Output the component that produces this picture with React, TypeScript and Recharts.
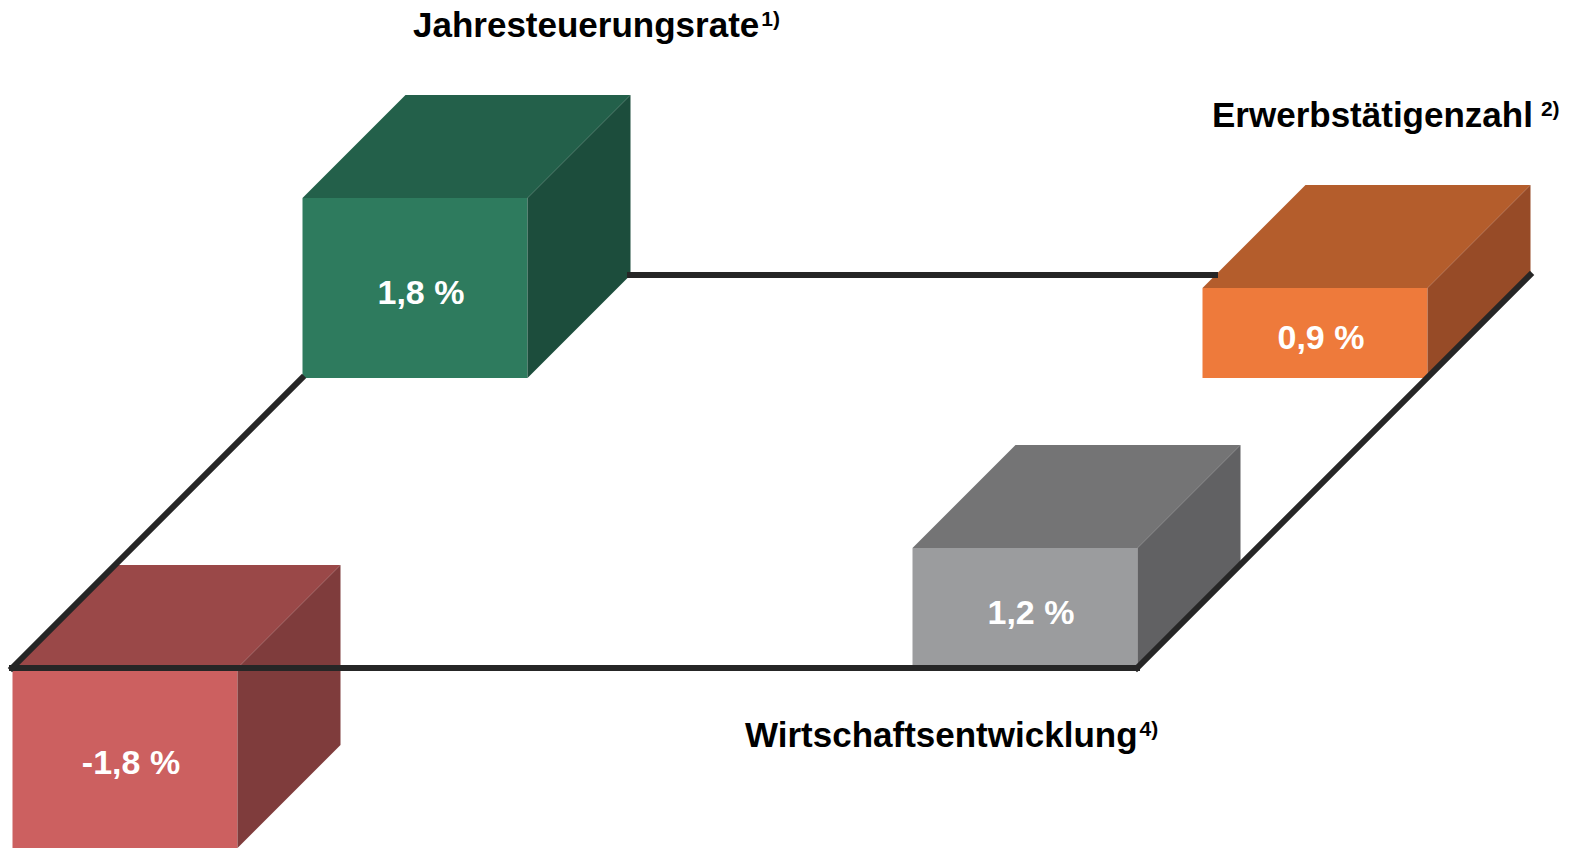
import React from 'react';
import { ComposedChart, Bar, XAxis, YAxis, ReferenceLine, LabelList, Customized } from 'recharts';

// four goals of the "magic square", one box per corner
const categories = ['Leistungsbilanz', 'Jahresteuerungsrate', 'Wirtschaftsentwicklung', 'Erwerbstätigenzahl'];
const values = [-1.8, 1.8, 1.2, 0.9];
const footnotes = ['3)', '1)', '4)', '2)'];
// corner of the square: column (left/right) and row (front/back)
const cornerCol = [0, 0, 1, 1];
const cornerRow = [0, 1, 0, 1];

const frontColors = ['#cc6060', '#2e7b5e', '#9b9c9e', '#ee7a3b'];
const topColors = ['#9a4848', '#23604a', '#747475', '#b45d2c'];
const sideColors = ['#7f3c3c', '#1c4d3c', '#616163', '#974b27'];

const WIDTH = 1569;
const HEIGHT = 848;
const X_DOMAIN: [number, number] = [0, 1569];
const Y_DOMAIN: [number, number] = [-1.8, 6.68];
const PX_PER_PCT = HEIGHT / (Y_DOMAIN[1] - Y_DOMAIN[0]);
const BOX_W = 225;
const DEPTH = 103;
const DEPTH_PCT = DEPTH / PX_PER_PCT;
const LEFT0 = 12;
const COL_GAP = 900;
const ROW_SHIFT = 290;
const ROW_LIFT = 2.9;
const FONT = '"Liberation Sans", Arial, sans-serif';
const LINE = '#262626';

// where the titles sit (no title is shown for the first corner)
const titleLayout: ({ x: number; y: number } | null)[] = [
  null,
  { x: 413, y: 37 },
  { x: 745, y: 747 },
  { x: 1212, y: 127 },
];

const leftOf = (i: number) => LEFT0 + cornerCol[i] * COL_GAP + cornerRow[i] * ROW_SHIFT;
const baseOf = (i: number) => cornerRow[i] * ROW_LIFT;

const data = categories.map((name, i) => {
  const base = baseOf(i);
  const v = values[i];
  return {
    idx: i,
    name,
    value: v,
    x: leftOf(i) + BOX_W / 2,
    range: v >= 0 ? [base, base + v] : [base + v, base],
  };
});

const fmt = (v: number) => v.toFixed(1).replace('.', ',') + ' %';

const Box3D = (props: any) => {
  const { x, y, width, height, payload } = props;
  const i = payload.idx;
  const top = Math.min(y, y + height);
  const h = Math.abs(height);
  const w = width;
  const topFace = `${x},${top} ${x + DEPTH},${top - DEPTH} ${x + w + DEPTH},${top - DEPTH} ${x + w},${top}`;
  const sideFace = `${x + w},${top} ${x + w + DEPTH},${top - DEPTH} ${x + w + DEPTH},${top + h - DEPTH} ${x + w},${top + h}`;
  return (
    <g>
      <rect x={x} y={top} width={w} height={h} fill={frontColors[i]} />
      <polygon points={topFace} fill={topColors[i]} />
      <polygon points={sideFace} fill={sideColors[i]} />
    </g>
  );
};

const ValueLabel = (props: any) => {
  const { x, y, width, height, value } = props;
  const top = Math.min(y, y + height);
  return (
    <text
      x={x + width / 2 + 6}
      y={top + Math.abs(height) / 2 + 4}
      textAnchor="middle"
      dominantBaseline="central"
      fill="#ffffff"
      fontFamily={FONT}
      fontWeight="bold"
      fontSize={34}
    >
      {fmt(value)}
    </text>
  );
};

const Titles = () => (
  <g>
    {categories.map((name, i) => {
      const pos = titleLayout[i];
      if (!pos) return null;
      return (
        <text key={name} x={pos.x} y={pos.y} fontFamily={FONT} fontWeight="bold" fontSize={35} fill="#000">
          {name}
          <tspan fontSize={21} dx={i === 3 ? 8 : 2} dy={-11}>{footnotes[i]}</tspan>
        </text>
      );
    })}
  </g>
);

const gray = leftOf(2) + BOX_W;
const backLift = ROW_LIFT + DEPTH_PCT;
const frame = [
  [{ x: leftOf(0), y: 0 }, { x: gray, y: 0 }],
  [{ x: leftOf(0), y: 0 }, { x: leftOf(1), y: ROW_LIFT }],
  [{ x: gray, y: 0 }, { x: leftOf(3) + BOX_W + DEPTH, y: backLift }],
  [
    { x: leftOf(1) + BOX_W + DEPTH, y: backLift },
    { x: leftOf(3) + (DEPTH_PCT - values[3]) * PX_PER_PCT, y: backLift },
  ],
];

export default function App() {
  return (
    <div style={{ position: 'absolute', left: 0, top: 0, width: WIDTH, height: HEIGHT, background: '#fff' }}>
      <ComposedChart width={WIDTH} height={HEIGHT} data={data} margin={{ top: 0, right: 0, bottom: 0, left: 0 }}>
        <XAxis type="number" dataKey="x" domain={X_DOMAIN} hide />
        <YAxis type="number" domain={Y_DOMAIN} hide />
        <Bar dataKey="range" barSize={BOX_W} shape={<Box3D />} isAnimationActive={false}>
          <LabelList dataKey="value" content={<ValueLabel />} />
        </Bar>
        {frame.map((seg, k) => (
          <ReferenceLine key={k} segment={seg} stroke={LINE} strokeWidth={6} strokeLinecap="square" />
        ))}
        <Customized component={Titles} />
      </ComposedChart>
    </div>
  );
}
